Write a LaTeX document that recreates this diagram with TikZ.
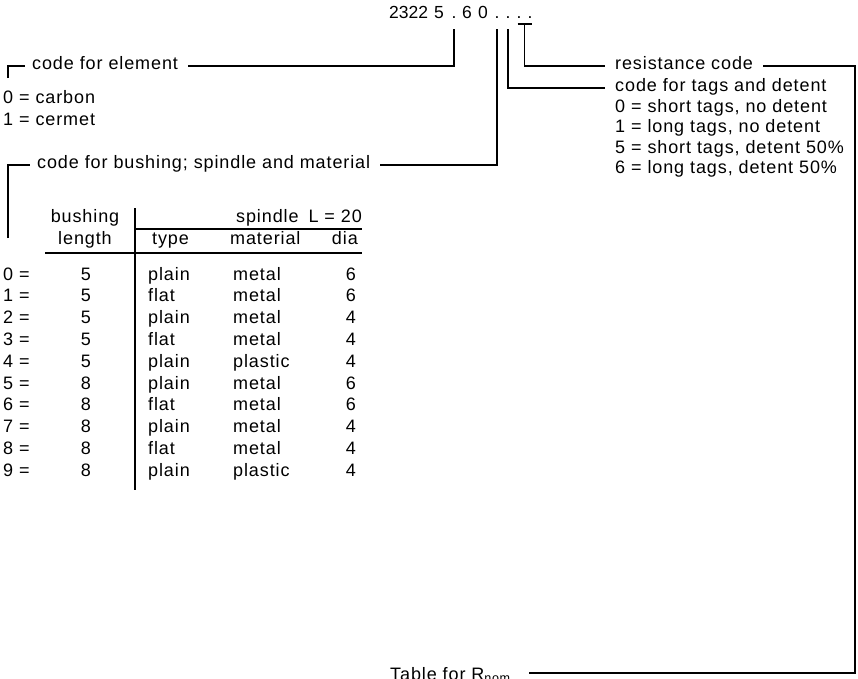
\documentclass[tikz,border=0pt]{standalone}
\usepackage{fontspec}
\setmainfont{Liberation Sans}[LetterSpace=5]
\newfontfamily\codefont{Liberation Sans}
\usetikzlibrary{calc}

\tikzset{
  lbl/.style={anchor=base west, inner sep=0pt, font=\fontsize{18}{21}\selectfont},
  ctr/.style={anchor=base, inner sep=0pt, font=\fontsize{18}{21}\selectfont},
  rgt/.style={anchor=base east, inner sep=0pt, font=\fontsize{18}{21}\selectfont},
  digit/.style={anchor=base, inner sep=0pt, font=\codefont\fontsize{17.5}{21}\selectfont},
  lead/.style={line width=1.1pt},
}

\begin{document}
\begin{tikzpicture}[x=1pt,y=-1pt]
\useasboundingbox (0,0) rectangle (858,678);

% type number
\node[digit, anchor=base west] (c0) at (389,18) {2322};
\node[digit] (c1) at (439,18) {5};
\node[digit] (d1) at (454,18) {.};
\node[digit] (c2) at (467,18) {6};
\node[digit] (c3) at (483,18) {0};
\node[digit] (d2) at (497,18) {.};
\node[digit] (d3) at (508,18) {.};
\node[digit] (d4) at (519,18) {.};
\node[digit] (d5) at (530,18) {.};

% element
\node[lbl] (elem) at (32,69) {code for element};
\node[lbl] (carbon) at (3,103) {0 = carbon};
\node[lbl] (cermet) at (3,125) {1 = cermet};
\draw[lead] (8,78) |- ([xshift=-7pt,yshift=3pt]elem.base west);
\draw[lead] ([xshift=10pt,yshift=3pt]elem.base east) -| ([yshift=-11pt]d1.base);

% resistance code
\node[lbl] (res) at (615,69) {resistance code};
\draw[lead] ([xshift=-1.5pt,yshift=-6pt]d4.base) -- ([xshift=1.5pt,yshift=-6pt]d5.base);
\draw[lead] ($(d4.base)!0.5!(d5.base)+(0,-6pt)$) |- ([xshift=-10pt,yshift=3pt]res.base west);

% tags and detent
\node[lbl] (tags) at (615,91) {code for tags and detent};
\node[lbl] (tag0) at (615,112) {0 = short tags, no detent};
\node[lbl] (tag1) at (615,132.5) {1 = long tags, no detent};
\node[lbl] (tag5) at (615,153) {5 = short tags, detent 50\%};
\node[lbl] (tag6) at (615,173.5) {6 = long tags, detent 50\%};
\draw[lead] ([yshift=-11pt]d3.base) |- ([xshift=-10pt,yshift=3pt]tags.base west);

% bushing, spindle and material
\node[lbl] (bush) at (37,168) {code for bushing; spindle and material};
\draw[lead] (8,238) |- ([xshift=-7pt,yshift=3pt]bush.base west);
\draw[lead] ([xshift=10pt,yshift=3pt]bush.base east) -| ([yshift=-11pt]d2.base);

% table head
\node[ctr] (hbush) at (85,222) {bushing};
\node[ctr] (hlen) at (85,244) {length};
\node[lbl] (hspin) at (236,222) {spindle};
\node[rgt] (hL) at (362,222) {L = 20};
\node[lbl] (htype) at (152,244) {type};
\node[lbl] (hmat) at (230,244) {material};
\node[rgt] (hdia) at (358,244) {dia};
\draw[lead] (135,229) -- (362,229);
\draw[lead] (45,253) -- (362,253);
\draw[lead] (135,208) -- (135,490);

% table rows
\foreach \i/\len/\typ/\mat/\dia in {0/5/plain/metal/6, 1/5/flat/metal/6,
    2/5/plain/metal/4, 3/5/flat/metal/4, 4/5/plain/plastic/4,
    5/8/plain/metal/6, 6/8/flat/metal/6, 7/8/plain/metal/4,
    8/8/flat/metal/4, 9/8/plain/plastic/4}{
  \pgfmathsetmacro\ry{280+21.8*\i}
  \node[lbl] (k\i) at (3,\ry) {\i\ =};
  \node[ctr] (len\i) at (86,\ry) {\len};
  \node[lbl] (typ\i) at (148,\ry) {\typ};
  \node[lbl] (mat\i) at (233,\ry) {\mat};
  \node[rgt] (dia\i) at (356,\ry) {\dia};
}

% table for Rnom
\node[lbl] (tab) at (390,680) {Table for R\textsubscript{nom}};
\coordinate (corner) at (855,673);
\draw[lead] ([xshift=10pt,yshift=3pt]res.base east) -| (corner) |- ([xshift=18pt,yshift=7pt]tab.base east);
\end{tikzpicture}
\end{document}
